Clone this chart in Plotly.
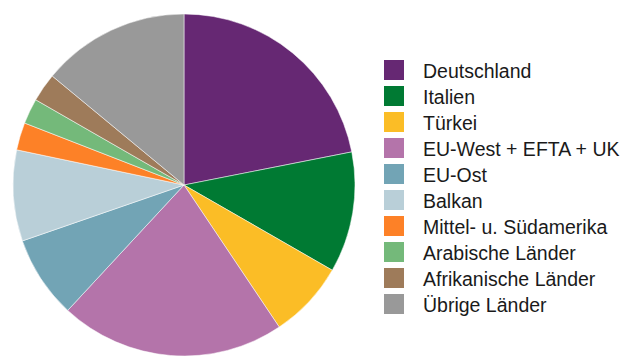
import plotly.graph_objects as go

# Anteile nach Herkunft (in Prozent)
labels = [
    "Deutschland",
    "Italien",
    "Türkei",
    "EU-West + EFTA + UK",
    "EU-Ost",
    "Balkan",
    "Mittel- u. Südamerika",
    "Arabische Länder",
    "Afrikanische Länder",
    "Übrige Länder",
]
values = [21.9, 11.4, 7.3, 21.3, 7.8, 8.6, 2.6, 2.4, 2.7, 14.0]
colors = [
    "#662873",
    "#007a33",
    "#fbbd26",
    "#b474aa",
    "#72a4b5",
    "#b9cfd8",
    "#fd8127",
    "#74b97a",
    "#9e7b5a",
    "#999999",
]

W, H = 623, 356

# pie geometry in pixels
cx, cy, r = 184, 185, 171

fig = go.Figure(
    go.Pie(
        labels=labels,
        values=values,
        sort=False,
        direction="clockwise",
        rotation=0,
        marker=dict(colors=colors, line=dict(color="white", width=0.5)),
        textinfo="none",
        hoverinfo="label+percent",
        showlegend=False,
        domain=dict(
            x=[(cx - r) / W, (cx + r) / W],
            y=[1 - (cy + r) / H, 1 - (cy - r) / H],
        ),
    )
)

# legend: colour squares with labels
sq_x0, sq_size, first_top, step, text_x = 384, 20, 60, 26, 421
shapes, annotations = [], []
for i, (lab, col) in enumerate(zip(labels, colors)):
    top = first_top + i * step
    shapes.append(
        dict(
            type="rect",
            xref="paper",
            yref="paper",
            x0=sq_x0 / W,
            x1=(sq_x0 + sq_size) / W,
            y0=1 - (top + sq_size) / H,
            y1=1 - top / H,
            fillcolor=col,
            line=dict(width=0),
        )
    )
    annotations.append(
        dict(
            xref="paper",
            yref="paper",
            x=text_x / W,
            y=1 - (top + sq_size / 2 + 0.5) / H,
            xanchor="left",
            yanchor="middle",
            text=lab,
            showarrow=False,
            font=dict(family="Liberation Sans, Arial, sans-serif", size=19.5, color="#1a1a1a"),
        )
    )

fig.update_layout(
    width=W,
    height=H,
    margin=dict(l=0, r=0, t=0, b=0),
    paper_bgcolor="white",
    plot_bgcolor="white",
    shapes=shapes,
    annotations=annotations,
)

fig.write_html("out.html")
